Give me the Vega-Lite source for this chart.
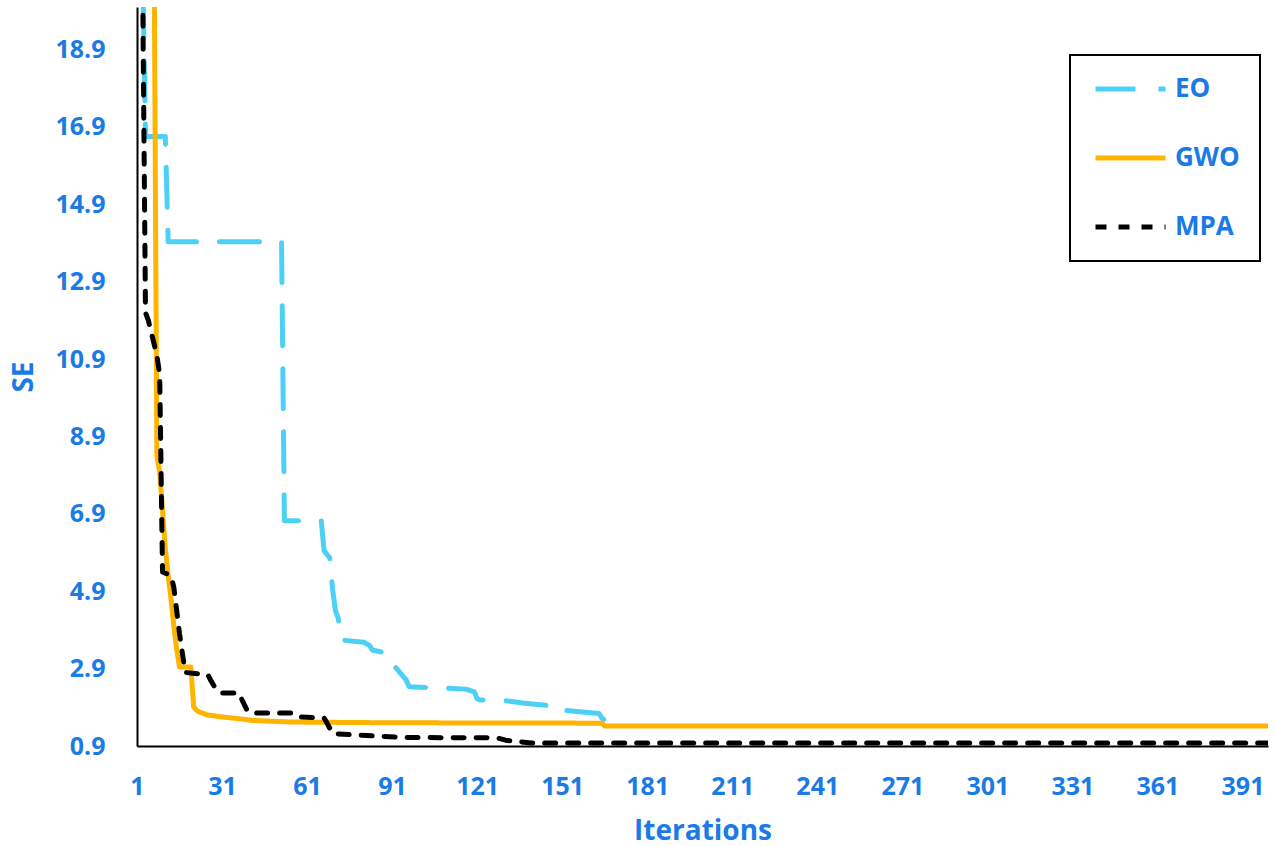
{
  "$schema": "https://vega.github.io/schema/vega-lite/v6.json",
  "autosize": "none",
  "width": 1131,
  "height": 739,
  "padding": {"left": 137, "top": 7, "right": 8, "bottom": 100},
  "background": "white",
  "config": {
    "view": {"stroke": null},
    "font": "Open Sans",
    "legend": {
      "orient": "none", "legendX": 933, "legendY": 48,
      "strokeColor": "black", "fillColor": "white",
      "padding": 20, "cornerRadius": 0,
      "symbolType": "stroke", "symbolSize": 4900, "symbolStrokeWidth": 5,
      "clipHeight": 28, "rowPadding": 41, "symbolOffset": 3, "labelOffset": 7,
      "labelFontSize": 26, "labelFontWeight": "bold", "labelColor": "#1a7ae6"
    }
  },
  "data": {
    "values": [
      {"iter": 1, "se": 30, "algo": "EO"},
      {"iter": 2, "se": 26, "algo": "EO"},
      {"iter": 3, "se": 21, "algo": "EO"},
      {"iter": 4, "se": 16.65, "algo": "EO"},
      {"iter": 11, "se": 16.65, "algo": "EO"},
      {"iter": 12, "se": 13.93, "algo": "EO"},
      {"iter": 52, "se": 13.93, "algo": "EO"},
      {"iter": 53, "se": 6.72, "algo": "EO"},
      {"iter": 66, "se": 6.72, "algo": "EO"},
      {"iter": 67, "se": 5.95, "algo": "EO"},
      {"iter": 69, "se": 5.76, "algo": "EO"},
      {"iter": 70, "se": 4.95, "algo": "EO"},
      {"iter": 71, "se": 4.4, "algo": "EO"},
      {"iter": 72, "se": 4.2, "algo": "EO"},
      {"iter": 73, "se": 3.64, "algo": "EO"},
      {"iter": 81, "se": 3.58, "algo": "EO"},
      {"iter": 83, "se": 3.5, "algo": "EO"},
      {"iter": 84, "se": 3.38, "algo": "EO"},
      {"iter": 89, "se": 3.3, "algo": "EO"},
      {"iter": 90, "se": 3.15, "algo": "EO"},
      {"iter": 91, "se": 3.0, "algo": "EO"},
      {"iter": 92, "se": 2.95, "algo": "EO"},
      {"iter": 96, "se": 2.6, "algo": "EO"},
      {"iter": 97, "se": 2.43, "algo": "EO"},
      {"iter": 108, "se": 2.4, "algo": "EO"},
      {"iter": 117, "se": 2.37, "algo": "EO"},
      {"iter": 120, "se": 2.3, "algo": "EO"},
      {"iter": 121, "se": 2.12, "algo": "EO"},
      {"iter": 122, "se": 2.09, "algo": "EO"},
      {"iter": 130, "se": 2.08, "algo": "EO"},
      {"iter": 137, "se": 2.01, "algo": "EO"},
      {"iter": 146, "se": 1.95, "algo": "EO"},
      {"iter": 147, "se": 1.85, "algo": "EO"},
      {"iter": 148, "se": 1.83, "algo": "EO"},
      {"iter": 152, "se": 1.82, "algo": "EO"},
      {"iter": 158, "se": 1.78, "algo": "EO"},
      {"iter": 164, "se": 1.74, "algo": "EO"},
      {"iter": 165, "se": 1.62, "algo": "EO"},
      {"iter": 166, "se": 1.57, "algo": "EO"},
      {"iter": 173, "se": 1.57, "algo": "EO"},
      {"iter": 1, "se": 45, "algo": "GWO"},
      {"iter": 6, "se": 30, "algo": "GWO"},
      {"iter": 7, "se": 22, "algo": "GWO"},
      {"iter": 8, "se": 8.4, "algo": "GWO"},
      {"iter": 9, "se": 8.0, "algo": "GWO"},
      {"iter": 10, "se": 7.0, "algo": "GWO"},
      {"iter": 11, "se": 6.0, "algo": "GWO"},
      {"iter": 12, "se": 5.3, "algo": "GWO"},
      {"iter": 13, "se": 4.7, "algo": "GWO"},
      {"iter": 14, "se": 4.0, "algo": "GWO"},
      {"iter": 15, "se": 3.4, "algo": "GWO"},
      {"iter": 16, "se": 2.94, "algo": "GWO"},
      {"iter": 20, "se": 2.94, "algo": "GWO"},
      {"iter": 21, "se": 1.91, "algo": "GWO"},
      {"iter": 22, "se": 1.82, "algo": "GWO"},
      {"iter": 23, "se": 1.78, "algo": "GWO"},
      {"iter": 26, "se": 1.7, "algo": "GWO"},
      {"iter": 30, "se": 1.66, "algo": "GWO"},
      {"iter": 35, "se": 1.62, "algo": "GWO"},
      {"iter": 42, "se": 1.56, "algo": "GWO"},
      {"iter": 55, "se": 1.52, "algo": "GWO"},
      {"iter": 90, "se": 1.5, "algo": "GWO"},
      {"iter": 165, "se": 1.49, "algo": "GWO"},
      {"iter": 166, "se": 1.42, "algo": "GWO"},
      {"iter": 400, "se": 1.42, "algo": "GWO"},
      {"iter": 1, "se": 40, "algo": "MPA"},
      {"iter": 2, "se": 30, "algo": "MPA"},
      {"iter": 3, "se": 20.5, "algo": "MPA"},
      {"iter": 4, "se": 12.1, "algo": "MPA"},
      {"iter": 5, "se": 11.9, "algo": "MPA"},
      {"iter": 6, "se": 11.6, "algo": "MPA"},
      {"iter": 7, "se": 11.3, "algo": "MPA"},
      {"iter": 8, "se": 11.0, "algo": "MPA"},
      {"iter": 9, "se": 10.5, "algo": "MPA"},
      {"iter": 10, "se": 5.4, "algo": "MPA"},
      {"iter": 13, "se": 5.3, "algo": "MPA"},
      {"iter": 14, "se": 5.0, "algo": "MPA"},
      {"iter": 15, "se": 4.4, "algo": "MPA"},
      {"iter": 16, "se": 3.8, "algo": "MPA"},
      {"iter": 17, "se": 3.3, "algo": "MPA"},
      {"iter": 18, "se": 2.8, "algo": "MPA"},
      {"iter": 26, "se": 2.74, "algo": "MPA"},
      {"iter": 27, "se": 2.6, "algo": "MPA"},
      {"iter": 29, "se": 2.35, "algo": "MPA"},
      {"iter": 31, "se": 2.27, "algo": "MPA"},
      {"iter": 37, "se": 2.27, "algo": "MPA"},
      {"iter": 38, "se": 2.1, "algo": "MPA"},
      {"iter": 40, "se": 1.8, "algo": "MPA"},
      {"iter": 41, "se": 1.75, "algo": "MPA"},
      {"iter": 56, "se": 1.75, "algo": "MPA"},
      {"iter": 58, "se": 1.65, "algo": "MPA"},
      {"iter": 67, "se": 1.62, "algo": "MPA"},
      {"iter": 68, "se": 1.5, "algo": "MPA"},
      {"iter": 70, "se": 1.22, "algo": "MPA"},
      {"iter": 80, "se": 1.18, "algo": "MPA"},
      {"iter": 95, "se": 1.12, "algo": "MPA"},
      {"iter": 128, "se": 1.11, "algo": "MPA"},
      {"iter": 131, "se": 1.05, "algo": "MPA"},
      {"iter": 140, "se": 0.98, "algo": "MPA"},
      {"iter": 400, "se": 0.98, "algo": "MPA"}
    ]
  },
  "mark": {"type": "line", "clip": true, "strokeWidth": 5, "strokeCap": "round", "strokeJoin": "round"},
  "encoding": {
    "x": {
      "field": "iter", "type": "quantitative",
      "scale": {"domain": [1, 400], "nice": false, "zero": false},
      "axis": {
        "title": "Iterations",
        "values": [1, 31, 61, 91, 121, 151, 181, 211, 241, 271, 301, 331, 361, 391],
        "grid": false, "ticks": false, "tickSize": 0,
        "domainColor": "black", "domainWidth": 2,
        "labelFontSize": 25, "labelFontWeight": "bold", "labelColor": "#1a7ae6",
        "labelPadding": 28, "labelFlush": false,
        "titleFontSize": 28, "titleFontWeight": "bold", "titleColor": "#1a7ae6",
        "titlePadding": 18
      }
    },
    "y": {
      "field": "se", "type": "quantitative",
      "scale": {"domain": [0.9, 20], "nice": false, "zero": false},
      "axis": {
        "title": "SE",
        "values": [0.9, 2.9, 4.9, 6.9, 8.9, 10.9, 12.9, 14.9, 16.9, 18.9],
        "format": ".1f",
        "grid": false, "ticks": false, "tickSize": 0,
        "domainColor": "black", "domainWidth": 2,
        "labelFontSize": 25, "labelFontWeight": "bold", "labelColor": "#1a7ae6",
        "labelPadding": 32, "labelFlush": false,
        "titleFontSize": 28, "titleFontWeight": "bold", "titleColor": "#1a7ae6",
        "titlePadding": 16
      }
    },
    "color": {
      "field": "algo", "type": "nominal",
      "scale": {"domain": ["EO", "GWO", "MPA"], "range": ["#4dd0f5", "#ffb400", "#000000"]},
      "legend": {
        "title": null,
        "encode": {"legend": {"update": {"strokeWidth": {"value": 2}}}}
      }
    },
    "strokeDash": {
      "field": "algo", "type": "nominal",
      "scale": {"domain": ["EO", "GWO", "MPA"], "range": [[40, 23], [1, 0], [11, 12]]},
      "legend": {
        "title": null,
        "encode": {"legend": {"update": {"strokeWidth": {"value": 2}}}}
      }
    }
  }
}
